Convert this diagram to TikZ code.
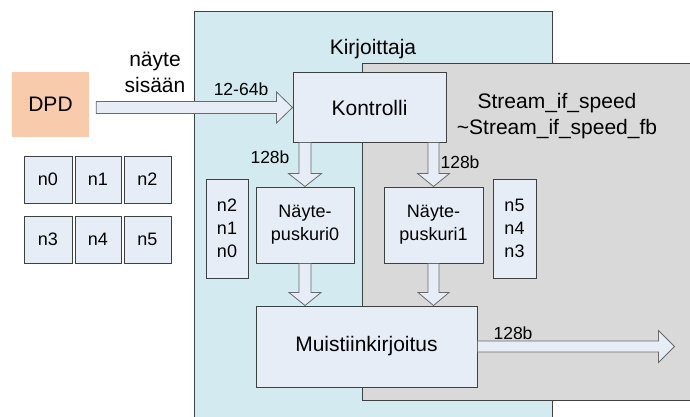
\documentclass[tikz,border=0pt]{standalone}
\usepackage{fontspec}
\setmainfont{Liberation Sans}
\usetikzlibrary{calc}

\definecolor{cyanbg}{HTML}{D2EAF0}
\definecolor{graybg}{HTML}{D9D9D9}
\definecolor{boxfill}{HTML}{E7EDF7}
\definecolor{dpdfill}{HTML}{F8CBAD}
\definecolor{edge}{HTML}{404040}
\definecolor{arrowedge}{HTML}{6A6A6A}

% Horizontal block arrow: start, tip, shaft half width, head half width
\newcommand\hfat[4]{%
  \draw[fat] let \p1=(#1), \p2=(#2) in
    (\x1,\y2+#3) -- (\x2-16pt,\y2+#3) -- (\x2-16pt,\y2+#4) -- (\x2,\y2)
    -- (\x2-16pt,\y2-#4) -- (\x2-16pt,\y2-#3) -- (\x1,\y2-#3) -- cycle;}
% Downward block arrow: start, tip, shaft half width, head half width
\newcommand\vfat[4]{%
  \draw[fat] let \p1=(#1), \p2=(#2) in
    (\x2+#3,\y1) -- (\x2+#3,\y2+13pt) -- (\x2+#4,\y2+13pt) -- (\x2,\y2)
    -- (\x2-#4,\y2+13pt) -- (\x2-#3,\y2+13pt) -- (\x2-#3,\y1) -- cycle;}

\begin{document}
\begin{tikzpicture}[x=1pt,y=-1pt,
  blk/.style={draw=edge, line width=1pt, fill=boxfill, inner sep=0pt, align=center},
  fat/.style={draw=arrowedge, line width=0.8pt, fill=boxfill},
  big/.style={font=\fontsize{21}{26}\selectfont, inner sep=0pt},
  mid/.style={font=\fontsize{18}{23}\selectfont},
  lbl/.style={font=\fontsize{17.5}{21}\selectfont, inner sep=0pt}]
\useasboundingbox (0,0) rectangle (690,417);
\fill[white] (0,0) rectangle (690,417);

% Kirjoittaja region
\fill[cyanbg] (194,12) rectangle (552,417);
\draw[edge, line width=1pt] (194,417) -- (194,12) -- (552,12) -- (552,417);
% stream region
\fill[graybg] (362,64) rectangle (690,400);
\draw[edge, line width=1pt] (690,64) -- (362,64) -- (362,400) -- (690,400);

\node[big] (title) at (373,49) {Kirjoittaja};
\node[big, align=center] (stream) at (557,116) {Stream\_if\_speed\\\textasciitilde Stream\_if\_speed\_fb};
\node[big, align=center] (inlbl) at (155,72) {näyte\\sisään};

% source and sample boxes
\node[fill=dpdfill, minimum width=77pt, minimum height=65pt, font=\fontsize{21}{26}\selectfont] (dpd) at (50.5,104.5) {DPD};
\node[blk, mid, minimum width=48pt, minimum height=47pt] (n0) at (48,179.5) {n0};
\node[blk, mid, minimum width=46pt, minimum height=47pt] (n1) at (98,179.5) {n1};
\node[blk, mid, minimum width=47pt, minimum height=47pt] (n2) at (147.5,179.5) {n2};
\node[blk, mid, minimum width=48pt, minimum height=47pt] (n3) at (48,239.5) {n3};
\node[blk, mid, minimum width=46pt, minimum height=47pt] (n4) at (98,239.5) {n4};
\node[blk, mid, minimum width=47pt, minimum height=47pt] (n5) at (147.5,239.5) {n5};

% functional blocks
\node[blk, big, minimum width=153pt, minimum height=69pt] (ctrl) at (369.5,107.5) {Kontrolli};
\node[blk, mid, minimum width=98pt, minimum height=76pt] (np0) at (305,225) {Näyte-\\puskuri0};
\node[blk, mid, minimum width=99pt, minimum height=76pt] (np1) at (433.5,225) {Näyte-\\puskuri1};
\node[blk, mid, minimum width=42pt, minimum height=99pt] (q0) at (227,228.5) {n2\\n1\\n0};
\node[blk, mid, minimum width=43pt, minimum height=99pt] (q1) at (514.5,228.5) {n5\\n4\\n3};
\node[blk, big, minimum width=221pt, minimum height=81pt] (mk) at (366.5,346.5) {Muistiinkirjoitus};

% data paths
\coordinate (a0) at ($(dpd.east |- ctrl.west)+(7,0)$);
\coordinate (outtip) at ($(mk.east)+(197,0)$);
\hfat{a0}{ctrl.west}{6pt}{15.5pt}
\hfat{mk.east}{outtip}{5.5pt}{16pt}
\vfat{ctrl.south}{np0.north}{6pt}{16.5pt}
\vfat{ctrl.south}{np1.north}{5.5pt}{16pt}
\vfat{np0.south}{np0.south |- mk.north}{6pt}{16pt}
\vfat{np1.south}{np1.south |- mk.north}{5.5pt}{15.5pt}

\node[lbl] (l1) at (241,89) {12-64b};
\node[lbl] (l2) at (270,157) {128b};
\node[lbl] (l3) at (460,162) {128b};
\node[lbl] (l4) at (513,333) {128b};
\end{tikzpicture}
\end{document}
